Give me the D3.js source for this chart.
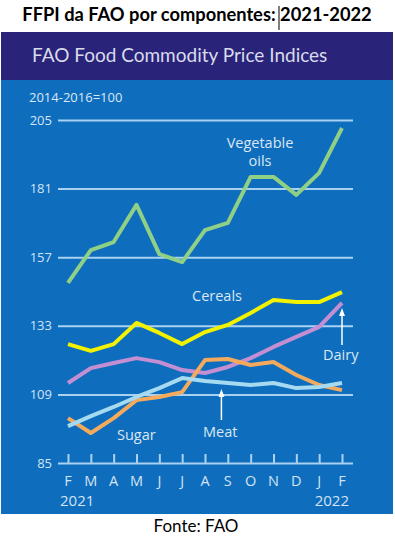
<!DOCTYPE html>
<html>
<head>
<meta charset="utf-8">
<script src="https://cdn.jsdelivr.net/npm/d3@7"></script>
<style>
body{margin:0;background:#fff;}
svg{display:block;}
</style>
</head>
<body>
<svg id="chart"></svg>
<script>
// months on the x axis, Feb 2021 .. Feb 2022
var monthKeys = ["2021-02","2021-03","2021-04","2021-05","2021-06","2021-07","2021-08","2021-09","2021-10","2021-11","2021-12","2022-01","2022-02"]
var monthLabels = ["F","M","A","M","J","J","A","S","O","N","D","J","F"]
var yTicks = [85,109,133,157,181,205]

// index values (2014-2016=100)
var vegOils = [148.0,159.5,162.3,175.3,158.1,155.3,166.5,169.0,185.1,185.1,178.8,186.5,202.2]
var cereals = [126.6,124.2,126.6,134.0,130.5,126.6,130.8,133.3,137.5,142.0,141.3,141.3,144.8]
var dairy   = [113.0,118.2,120.0,121.7,120.3,117.5,116.5,118.6,121.7,125.6,129.1,132.6,141.0]
var sugar   = [100.7,95.5,100.7,107.0,108.1,109.8,121.0,121.4,119.3,120.3,115.8,112.3,110.5]
var meat    = [97.9,101.4,104.6,108.1,111.2,114.7,113.7,113.0,112.3,113.0,111.2,111.6,113.0]

var screen = {width:395,height:539}

var svg = d3.select("#chart")
    .attr("width",screen.width)
    .attr("height",screen.height)

// page title (outside the picture)
svg.append("text")
    .text("FFPI da FAO por componentes: 2021-2022")
    .attr("x",197)
    .attr("y",21)
    .attr("text-anchor","middle")
    .style("font-family","Lato, 'Open Sans', sans-serif")
    .style("font-weight","bold")
    .style("font-size","18.3px")
    .attr("fill","#000")
// the little text cursor after the colon
svg.append("line")
    .attr("x1",279).attr("x2",279)
    .attr("y1",6).attr("y2",30)
    .attr("stroke","#000").attr("stroke-width",1)

// panel
svg.append("rect")
    .attr("x",1).attr("y",80)
    .attr("width",392).attr("height",434)
    .attr("fill","#0e6dbd")
svg.append("rect")
    .attr("x",1).attr("y",32)
    .attr("width",392).attr("height",48)
    .attr("fill","#29237a")

svg.append("text")
    .text("FAO Food Commodity Price Indices")
    .attr("x",32).attr("y",62)
    .style("font-family","Lato, sans-serif")
    .style("font-size","19px")
    .attr("fill","#d9dbea")

svg.append("text")
    .text("2014-2016=100")
    .attr("x",29).attr("y",102)
    .style("font-family","'Open Sans', sans-serif")
    .style("font-size","13px")
    .attr("fill","#dde8f4")

var xScale = d3.scalePoint()
    .domain(monthKeys)
    .range([68,342])

var yScale = d3.scaleLinear()
    .domain([85,205])
    .range([463,120])

// gridlines + y labels
var yAxis = d3.axisLeft(yScale)
    .tickValues(yTicks)
    .tickSize(-295)
    .tickPadding(6)

var ga = svg.append("g")
    .attr("transform","translate(58,0)")
    .call(yAxis)
ga.select(".domain").remove()
ga.selectAll(".tick line")
    .attr("stroke","#a9d2f2")
    .attr("stroke-width",2)
ga.selectAll(".tick text")
    .attr("fill","#d3e4f4")
    .style("font-family","'Open Sans', sans-serif")
    .style("font-size","13px")

// x axis ticks (pointing up from the 85 line)
var xAxis = d3.axisTop(xScale)
    .tickSize(9)
    .tickFormat("")
var gx = svg.append("g")
    .attr("transform","translate(0,"+yScale(85)+")")
    .call(xAxis)
gx.select(".domain").remove()
gx.selectAll(".tick line")
    .attr("stroke","#a9d2f2")
    .attr("stroke-width",2)

svg.append("g")
    .selectAll("text")
    .data(monthKeys)
    .enter()
    .append("text")
    .text(function(d,i){return monthLabels[i]})
    .attr("x",function(d){return xScale(d)})
    .attr("y",486)
    .attr("text-anchor","middle")
    .style("font-family","'Open Sans', sans-serif")
    .style("font-size","14.5px")
    .attr("fill","#d3e4f4")

svg.append("text").text("2021")
    .attr("x",xScale(monthKeys[0])-8).attr("y",506)
    .style("font-family","'Open Sans', sans-serif")
    .style("font-size","15px")
    .attr("fill","#d3e4f4")
svg.append("text").text("2022")
    .attr("x",xScale(monthKeys[12])+7).attr("y",506)
    .attr("text-anchor","end")
    .style("font-family","'Open Sans', sans-serif")
    .style("font-size","15px")
    .attr("fill","#d3e4f4")

// series lines
var series = [
    {name:"Vegetable oils",values:vegOils,color:"#8fd086"},
    {name:"Dairy",values:dairy,color:"#c48fd2"},
    {name:"Sugar",values:sugar,color:"#f4aa5c"},
    {name:"Meat",values:meat,color:"#a6daf0"},
    {name:"Cereals",values:cereals,color:"#f2f200"}
]

var line = d3.line()
    .x(function(d,i){return xScale(monthKeys[i])})
    .y(function(d){return yScale(d)})

svg.append("g")
    .selectAll("path")
    .data(series)
    .enter()
    .append("path")
    .attr("d",function(s){return line(s.values)})
    .attr("fill","none")
    .attr("stroke",function(s){return s.color})
    .attr("stroke-width",4)
    .attr("stroke-linejoin","round")

// labels
var labelFont = function(sel){
    sel.style("font-family","'Open Sans', sans-serif")
       .style("font-size","14.5px")
       .attr("fill","#dbe7f3")
}
svg.append("text").text("Vegetable").attr("x",260).attr("y",148).attr("text-anchor","middle").call(labelFont)
svg.append("text").text("oils").attr("x",260).attr("y",166).attr("text-anchor","middle").call(labelFont)
svg.append("text").text("Cereals").attr("x",192).attr("y",301).call(labelFont)
svg.append("text").text("Dairy").attr("x",323).attr("y",360).call(labelFont)
svg.append("text").text("Meat").attr("x",203).attr("y",437).call(labelFont)
svg.append("text").text("Sugar").attr("x",117).attr("y",440).call(labelFont)

// arrows
var arrow = function(x,y1,y2){
    svg.append("line")
        .attr("x1",x).attr("x2",x)
        .attr("y1",y1).attr("y2",y2+6)
        .attr("stroke","#fff").attr("stroke-width",1.5)
    svg.append("path")
        .attr("d","M"+x+","+y2+"L"+(x-3)+","+(y2+8)+"L"+(x+3)+","+(y2+8)+"Z")
        .attr("fill","#fff")
}
arrow(xScale(monthKeys[12]),345,yScale(dairy[12])+5)
arrow((xScale(monthKeys[6])+xScale(monthKeys[7]))/2+5,420,yScale(meat[7])+6)

svg.append("text")
    .text("Fonte: FAO")
    .attr("x",196).attr("y",532)
    .attr("text-anchor","middle")
    .style("font-family","Lato, sans-serif")
    .style("font-size","17px")
    .attr("fill","#000")
</script>
</body>
</html>
